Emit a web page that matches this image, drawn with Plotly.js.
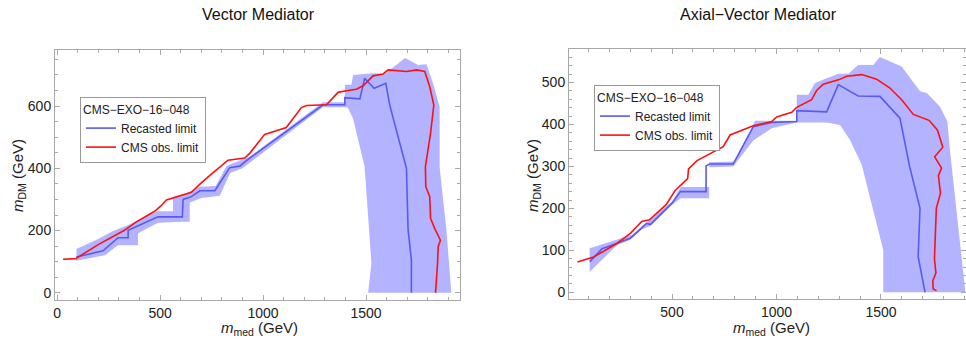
<!DOCTYPE html>
<html><head><meta charset="utf-8">
<script src="https://cdn.plot.ly/plotly-3.0.1.min.js"></script>
<style>html,body{margin:0;padding:0;background:#fff}#c{width:966px;height:341px}</style>
</head><body><div id="c"></div>
<script>
// ---------- Vector mediator ----------
const vRedX = [29,91,200,325,385,474,504,531,652,701,765,830,911,935,1008,1113,1186,1211,1308,1364,1405,1453,1486,1534,1583,1607,1696,1745,1785,1809,1829,1813,1788,1790,1809,1813,1833,1861,1850,1847,1837];
const vRedY = [108,110,155,200,228,262,279,298,323,354,390,426,433,448,509,531,595,602,604,644,649,654,665,697,703,716,711,716,711,662,603,512,405,341,309,239,207,169,148,95,0];
const vBlueX = [94,223,296,345,345,490,608,612,652,693,766,838,887,927,1291,1397,1397,1470,1493,1539,1596,1615,1696,1704,1720,1720];
const vBlueY = [115,135,177,177,201,244,244,300,309,328,328,402,407,429,604,604,627,623,689,657,673,603,400,202,105,0];
const vBandUpX = [94,207,264,345,430,490,563,563,612,693,770,822,860,935,1290,1397,1397,1429,1437,1534,1591,1689,1753,1793,1825,1857,1857,1890,1914];
const vBandUpY = [141,175,196,218,245,262,262,309,314,341,343,407,418,437,612,612,668,668,700,705,703,754,732,734,673,598,405,202,0];
const vBandLoX = [94,232,296,393,393,490,612,644,644,701,790,840,900,935,1290,1410,1437,1493,1526,1510];
const vBandLoY = [103,121,153,153,191,225,228,228,290,305,312,385,400,420,596,596,560,405,95,0];

// ---------- Axial-vector mediator ----------
const aRedX = [47,125,238,302,355,392,472,514,575,579,620,745,778,889,977,1001,1073,1097,1168,1192,1224,1300,1336,1408,1479,1543,1599,1655,1730,1770,1796,1757,1790,1775,1785,1765,1756,1763,1748,1750,1766];
const aRedY = [72,84,117,141,169,173,209,242,271,294,314,347,375,397,407,418,429,441,459,481,496,507,515,519,508,487,459,424,410,387,346,323,296,278,236,200,80,46,27,8,4];
const aBlueX = [107,165,199,300,355,377,397,499,540,663,663,680,793,889,977,1097,1097,1240,1296,1336,1391,1495,1591,1637,1687,1678,1711];
const aBlueY = [73,104,110,129,153,164,162,212,240,240,301,306,306,395,405,407,433,430,495,484,468,467,415,300,200,85,0];
const aBandUpX = [106,310,360,500,542,678,678,800,889,897,1097,1097,1152,1184,1296,1344,1391,1463,1495,1599,1687,1719,1782,1818,1830,1878,1904];
const aBandUpY = [105,137,160,216,251,251,310,312,400,409,409,471,471,499,521,521,542,542,561,538,479,475,443,407,340,117,0];
const aBandLoX = [106,238,300,355,397,499,542,678,678,793,889,977,1097,1240,1304,1352,1408,1511,1511];
const aBandLoY = [49,113,125,150,158,208,224,224,298,300,362,391,405,405,399,363,304,101,0];

const legendTitle = 'CMS\u2212EXO\u221216\u2212048';
const names = ['Recasted limit', 'CMS obs. limit'];
const panelTitles = ['Vector Mediator', 'Axial\u2212Vector Mediator'];

const bandColor = 'rgba(110,110,255,0.52)';
const blueColor = '#5a5af2';
const redColor = '#ff1010';

function poly(ux, uy, lx, ly) {
  return {x: ux.concat(lx.slice().reverse()), y: uy.concat(ly.slice().reverse())};
}
const vb = poly(vBandUpX, vBandUpY, vBandLoX, vBandLoY);
const ab = poly(aBandUpX, aBandUpY, aBandLoX, aBandLoY);

const traces = [
  {x: vb.x, y: vb.y, type: 'scatter', mode: 'lines', fill: 'toself', fillcolor: bandColor, line: {width: 0}, hoverinfo: 'skip', showlegend: false, xaxis: 'x', yaxis: 'y'},
  {x: vBlueX, y: vBlueY, type: 'scatter', mode: 'lines', line: {color: blueColor, width: 1.6}, name: names[0], legend: 'legend', xaxis: 'x', yaxis: 'y'},
  {x: vRedX, y: vRedY, type: 'scatter', mode: 'lines', line: {color: redColor, width: 1.6}, name: names[1], legend: 'legend', xaxis: 'x', yaxis: 'y'},
  {x: ab.x, y: ab.y, type: 'scatter', mode: 'lines', fill: 'toself', fillcolor: bandColor, line: {width: 0}, hoverinfo: 'skip', showlegend: false, xaxis: 'x2', yaxis: 'y2'},
  {x: aBlueX, y: aBlueY, type: 'scatter', mode: 'lines', line: {color: blueColor, width: 1.6}, name: names[0], legend: 'legend2', xaxis: 'x2', yaxis: 'y2'},
  {x: aRedX, y: aRedY, type: 'scatter', mode: 'lines', line: {color: redColor, width: 1.6}, name: names[1], legend: 'legend2', xaxis: 'x2', yaxis: 'y2'}
];

const frame = '#a8a8a8';
const fam = 'Liberation Sans, Arial, sans-serif';
function ax(extra) {
  return Object.assign({
    showgrid: false, zeroline: false, showline: true, linecolor: frame, linewidth: 1,
    mirror: 'allticks', ticks: 'inside', ticklen: 5, tickcolor: frame, tickwidth: 1,
    tickfont: {family: fam, size: 14, color: '#222'},
    automargin: false
  }, extra);
}
const legendBase = {
  bgcolor: '#fff', bordercolor: '#999', borderwidth: 1,
  font: {family: fam, size: 12, color: '#222'},
  title: {text: legendTitle, font: {family: fam, size: 12, color: '#222'}},
  xanchor: 'left', yanchor: 'top', tracegroupgap: 0, itemwidth: 30
};

const layout = {
  width: 966, height: 341, margin: {l: 0, r: 0, t: 0, b: 0},
  paper_bgcolor: '#fff', plot_bgcolor: '#fff',
  xaxis: ax({domain: [55/966, 460/966], range: [-10, 1956], tickvals: [0,500,1000,1500], ticktext: ['0','500','1000','1500'],
    minor: {dtick: 100, tick0: 0, ticks: 'inside', ticklen: 3, tickcolor: frame}, anchor: 'y'}),
  yaxis: ax({domain: [1-300/341, 1-50/341], range: [-23, 780], tickvals: [0,200,400,600],
    minor: {dtick: 50, tick0: 0, ticks: 'inside', ticklen: 3, tickcolor: frame}, anchor: 'x'}),
  xaxis2: ax({domain: [569/966, 1], range: [7, 1907], tickvals: [500,1000,1500],
    minor: {dtick: 100, tick0: 0, ticks: 'inside', ticklen: 3, tickcolor: frame}, anchor: 'y2'}),
  yaxis2: ax({domain: [1-299/341, 1-49/341], range: [-16, 580], tickvals: [0,100,200,300,400,500],
    minor: {dtick: 20, tick0: 0, ticks: 'inside', ticklen: 3, tickcolor: frame}, anchor: 'x2'}),
  legend: Object.assign({}, legendBase, {x: 80/966, y: 1-97/341}),
  legend2: Object.assign({}, legendBase, {x: 594/966, y: 1-85/341}),
  annotations: [
    {text: panelTitles[0], xref: 'paper', yref: 'paper', x: 258/966, y: 1-15/341, xanchor: 'center', yanchor: 'middle', showarrow: false, font: {family: fam, size: 16, color: '#111'}},
    {text: panelTitles[1], xref: 'paper', yref: 'paper', x: 758/966, y: 1-15/341, xanchor: 'center', yanchor: 'middle', showarrow: false, font: {family: fam, size: 16, color: '#111'}},
    {text: '<i>m</i><sub>med</sub> (GeV)', xref: 'paper', yref: 'paper', x: 259/966, y: 1-328/341, xanchor: 'center', yanchor: 'middle', showarrow: false, font: {family: fam, size: 15, color: '#222'}},
    {text: '<i>m</i><sub>med</sub> (GeV)', xref: 'paper', yref: 'paper', x: 771/966, y: 1-328/341, xanchor: 'center', yanchor: 'middle', showarrow: false, font: {family: fam, size: 15, color: '#222'}},
    {text: '<i>m</i><sub>DM</sub> (GeV)', xref: 'paper', yref: 'paper', x: 18/966, y: 1-176/341, xanchor: 'center', yanchor: 'middle', textangle: -90, showarrow: false, font: {family: fam, size: 15, color: '#222'}},
    {text: '<i>m</i><sub>DM</sub> (GeV)', xref: 'paper', yref: 'paper', x: 533/966, y: 1-176/341, xanchor: 'center', yanchor: 'middle', textangle: -90, showarrow: false, font: {family: fam, size: 15, color: '#222'}}
  ]
};
Plotly.newPlot('c', traces, layout, {staticPlot: true, displayModeBar: false});
</script></body></html>
